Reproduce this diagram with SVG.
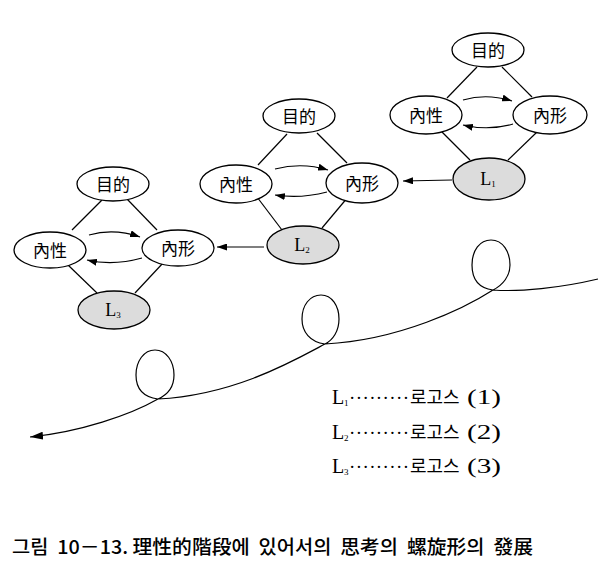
<svg xmlns="http://www.w3.org/2000/svg" width="608" height="584" viewBox="0 0 608 584">
<defs>
<marker id="ah" markerWidth="10" markerHeight="7" refX="10" refY="3.5" orient="auto" markerUnits="userSpaceOnUse"><path d="M0,0 L10,3.5 L0,7 z" fill="#000"/></marker>
<marker id="ahb" markerWidth="13" markerHeight="8" refX="13" refY="4" orient="auto" markerUnits="userSpaceOnUse"><path d="M0,0 L13,4 L0,8 z" fill="#000"/></marker>
</defs>
<style>
.n{fill:#fff;stroke:#000;stroke-width:1.3}
.g{fill:#dcdcdc;stroke:#000;stroke-width:1.3}
.ln{stroke:#000;stroke-width:1.2;fill:none}
.ar{stroke:#000;stroke-width:1.2;fill:none;marker-end:url(#ah)}
.t{font-family:"Noto Sans CJK KR","Noto Sans CJK JP",sans-serif;font-size:17px;text-anchor:middle;dominant-baseline:central}
.L{font-family:"Liberation Serif",serif;font-size:18px;text-anchor:middle}
.s{font-size:9px}
.lg{font-family:"Liberation Serif",serif;font-size:20px}
.ls{font-family:"Liberation Serif",serif;font-size:9px}
.dt{font-family:"Liberation Serif",serif;font-size:19px}
.kr{font-family:"Noto Sans CJK KR",sans-serif;font-size:18px}
.cap{font-family:"Noto Sans CJK KR",sans-serif;font-size:19px;font-weight:500}
</style>
<g id="connectors">
<line class="ln" x1="477" y1="67" x2="447" y2="98"/>
<line class="ln" x1="502" y1="67" x2="532" y2="97"/>
<line class="ln" x1="440" y1="130" x2="470" y2="160"/>
<line class="ln" x1="537" y1="132" x2="508" y2="160"/>
<path class="ar" d="M463,100 Q487,93 512,101"/>
<path class="ar" d="M513,124 Q488,131 463,125"/>
<line class="ln" x1="287" y1="134" x2="258" y2="165"/>
<line class="ln" x1="317" y1="133" x2="347" y2="163"/>
<line class="ln" x1="257" y1="197" x2="282" y2="230"/>
<line class="ln" x1="348" y1="197" x2="322" y2="228"/>
<path class="ar" d="M275,169 Q302,162 328,170"/>
<path class="ar" d="M327,192 Q300,199 275,195"/>
<line class="ln" x1="102" y1="200" x2="72" y2="230"/>
<line class="ln" x1="127" y1="199" x2="157" y2="230"/>
<line class="ln" x1="68" y1="265" x2="97" y2="293"/>
<line class="ln" x1="163" y1="263" x2="135" y2="293"/>
<path class="ar" d="M89,235 Q114,228 140,237"/>
<path class="ar" d="M142,258 Q113,266 87,260"/>
<line class="ar" x1="452" y1="180" x2="403" y2="181"/>
<line class="ar" x1="264" y1="247" x2="217" y2="247"/>
<path class="ln" style="marker-end:url(#ahb)" d="M598,279 C560,288 520,292 493,290 C478,288 472,278 472,265 C472,250 480,240 491,240 C503,240 510,252 510,265 C510,276 503,285 493,290 C465,308 400,340 325,344 C310,342 302,332 302,319 C302,305 310,295 321,295 C332,295 339,306 339,319 C339,331 333,340 325,344 C295,360 235,395 158,399 C143,397 136,388 136,375 C136,361 144,350 155,350 C166,350 174,361 174,375 C174,387 167,395 158,399 C130,415 80,432 30,437"/>
</g>
<g id="c1-purpose"><ellipse class="n" cx="488" cy="50" rx="36" ry="17"/><text class="t" x="488" y="49">目的</text></g>
<g id="c1-naisei"><ellipse class="n" cx="426" cy="115" rx="36" ry="19"/><text class="t" x="426" y="114">內性</text></g>
<g id="c1-naikei"><ellipse class="n" cx="550" cy="115" rx="37" ry="19"/><text class="t" x="550" y="114">內形</text></g>
<g id="L1"><ellipse class="g" cx="489" cy="179" rx="36" ry="21"/><text class="L" x="488" y="185">L<tspan class="s" dy="2">1</tspan></text></g>
<g id="c2-purpose"><ellipse class="n" cx="299" cy="116" rx="36" ry="17"/><text class="t" x="299" y="115">目的</text></g>
<g id="c2-naisei"><ellipse class="n" cx="236" cy="184" rx="36" ry="19"/><text class="t" x="236" y="183">內性</text></g>
<g id="c2-naikei"><ellipse class="n" cx="362" cy="183" rx="36" ry="20"/><text class="t" x="362" y="182">內形</text></g>
<g id="L2"><ellipse class="g" cx="303" cy="245" rx="36" ry="19"/><text class="L" x="302" y="251">L<tspan class="s" dy="2">2</tspan></text></g>
<g id="c3-purpose"><ellipse class="n" cx="113" cy="184" rx="36" ry="17"/><text class="t" x="113" y="183">目的</text></g>
<g id="c3-naisei"><ellipse class="n" cx="50" cy="250" rx="36" ry="18"/><text class="t" x="50" y="249">內性</text></g>
<g id="c3-naikei"><ellipse class="n" cx="178" cy="248" rx="36" ry="18"/><text class="t" x="178" y="247">內形</text></g>
<g id="L3"><ellipse class="g" cx="114" cy="310" rx="36" ry="19"/><text class="L" x="113" y="316">L<tspan class="s" dy="2">3</tspan></text></g>
<g id="legend">
<text class="lg" x="332" y="404">L</text><text class="ls" x="344" y="406">1</text>
<text class="dt" x="349" y="404" textLength="60" lengthAdjust="spacing">·········</text>
<text class="kr" x="410" y="404">로고스</text><text class="lg" x="467" y="404" textLength="34" lengthAdjust="spacingAndGlyphs">(1)</text>
<text class="lg" x="332" y="439">L</text><text class="ls" x="344" y="441">2</text>
<text class="dt" x="349" y="439" textLength="60" lengthAdjust="spacing">·········</text>
<text class="kr" x="410" y="439">로고스</text><text class="lg" x="467" y="439" textLength="34" lengthAdjust="spacingAndGlyphs">(2)</text>
<text class="lg" x="332" y="473">L</text><text class="ls" x="344" y="475">3</text>
<text class="dt" x="349" y="473" textLength="60" lengthAdjust="spacing">·········</text>
<text class="kr" x="410" y="473">로고스</text><text class="lg" x="467" y="473" textLength="34" lengthAdjust="spacingAndGlyphs">(3)</text>
</g>
<text class="cap" x="12" y="554" textLength="521" lengthAdjust="spacingAndGlyphs" xml:space="preserve">그림  10－13. 理性的階段에  있어서의  思考의  螺旋形의  發展</text>
</svg>
